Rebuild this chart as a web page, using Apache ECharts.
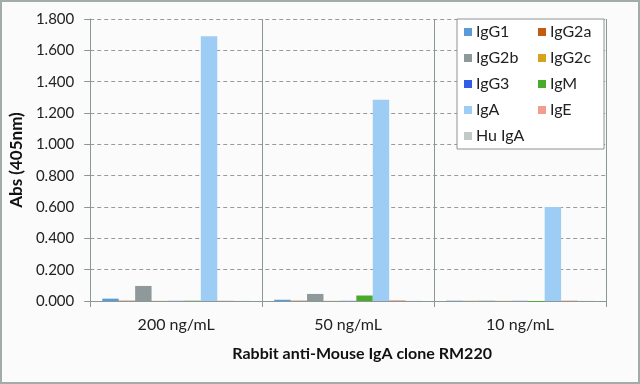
<!DOCTYPE html>
<html>
<head>
<meta charset="utf-8">
<script src="https://cdn.jsdelivr.net/npm/echarts@6/dist/echarts.min.js"></script>
<style>html,body{margin:0;padding:0;background:#fff;}#c{width:640px;height:384px;}</style>
</head>
<body>
<div id="c"></div>
<script>
const categories = ['200 ng/mL', '50 ng/mL', '10 ng/mL'];
const seriesNames = ['IgG1', 'IgG2a', 'IgG2b', 'IgG2c', 'IgG3', 'IgM', 'IgA', 'IgE', 'Hu IgA'];
const IgG1 = [0.015, 0.008, 0.002];
const IgG2a = [0.002, 0.002, 0.001];
const IgG2b = [0.096, 0.045, 0.002];
const IgG2c = [0.001, 0.001, 0.001];
const IgG3 = [0.001, 0.001, 0.001];
const IgM = [0.002, 0.035, -0.005];
const IgA = [1.690, 1.285, 0.600];
const IgE = [0.002, 0.005, 0.003];
const HuIgA = [0.001, 0.001, 0.001];
const yTicks = { min: 0, max: 1.8, interval: 0.2 };
const colors = ['#5b9bd5', '#c55a11', '#8f9999', '#d8a31c', '#2f5de3', '#4aaa2a', '#9dcdf5', '#f29e8e', '#c3c8c8'];

const values = [IgG1, IgG2a, IgG2b, IgG2c, IgG3, IgM, IgA, IgE, HuIgA];
const font = 'Lato, "Open Sans", sans-serif';
const chart = echarts.init(document.getElementById('c'));
chart.setOption({
  animation: false,
  color: colors,
  textStyle: { fontFamily: font },
  graphic: [{
    type: 'rect', z: -10, silent: true,
    shape: { x: 1, y: 1, width: 638, height: 382 },
    style: { fill: '#fbfbfb', stroke: '#a3aca9', lineWidth: 2 }
  }],
  grid: { left: 88, right: 34, top: 19, bottom: 83 },
  legend: {
    left: 457, top: 19,
    width: 150,
    orient: 'horizontal',
    itemWidth: 8, itemHeight: 8, itemGap: 10,
    icon: 'rect',
    padding: [5, 2, 5, 7],
    backgroundColor: '#ffffff',
    borderColor: '#8c9494', borderWidth: 1,
    textStyle: { fontFamily: font, fontSize: 16, color: '#222', width: 52, lineHeight: 15.5, padding: [0,0,0,-1] },
    data: seriesNames
  },
  xAxis: {
    type: 'category',
    data: categories,
    axisLine: { lineStyle: { color: '#8a9795', width: 1 } },
    axisTick: { show: true, length: 6, lineStyle: { color: '#8a9795' } },
    splitLine: { show: true, lineStyle: { color: '#8a9795', width: 1, type: 'solid' } },
    axisLabel: { fontSize: 16, color: '#222', margin: 16, fontFamily: font },
    name: 'Rabbit anti-Mouse IgA clone RM220',
    nameLocation: 'middle',
    nameGap: 45,
    nameTextStyle: { fontSize: 16, fontWeight: 'bold', color: '#111', fontFamily: font, padding: [0, 0, 0, 28] }
  },
  yAxis: {
    type: 'value',
    min: yTicks.min, max: yTicks.max, interval: yTicks.interval,
    axisLine: { show: true, lineStyle: { color: '#8a9795', width: 1 } },
    axisTick: { show: true, length: 6, lineStyle: { color: '#8a9795' } },
    splitLine: { show: true, lineStyle: { color: '#9a9a9a', type: [4, 3], width: 1 } },
    axisLabel: { fontSize: 15, color: '#222', margin: 16, fontFamily: font, formatter: v => v.toFixed(3) },
    name: 'Abs (405nm)',
    nameLocation: 'middle',
    nameGap: 61,
    nameTextStyle: { fontSize: 17, fontWeight: 'bold', color: '#111', fontFamily: font }
  },
  series: seriesNames.map((n, i) => ({
    name: n,
    type: 'bar',
    data: values[i],
    barGap: '0%',
    barCategoryGap: '14%',
    clip: false
  }))
});
</script>
</body>
</html>
